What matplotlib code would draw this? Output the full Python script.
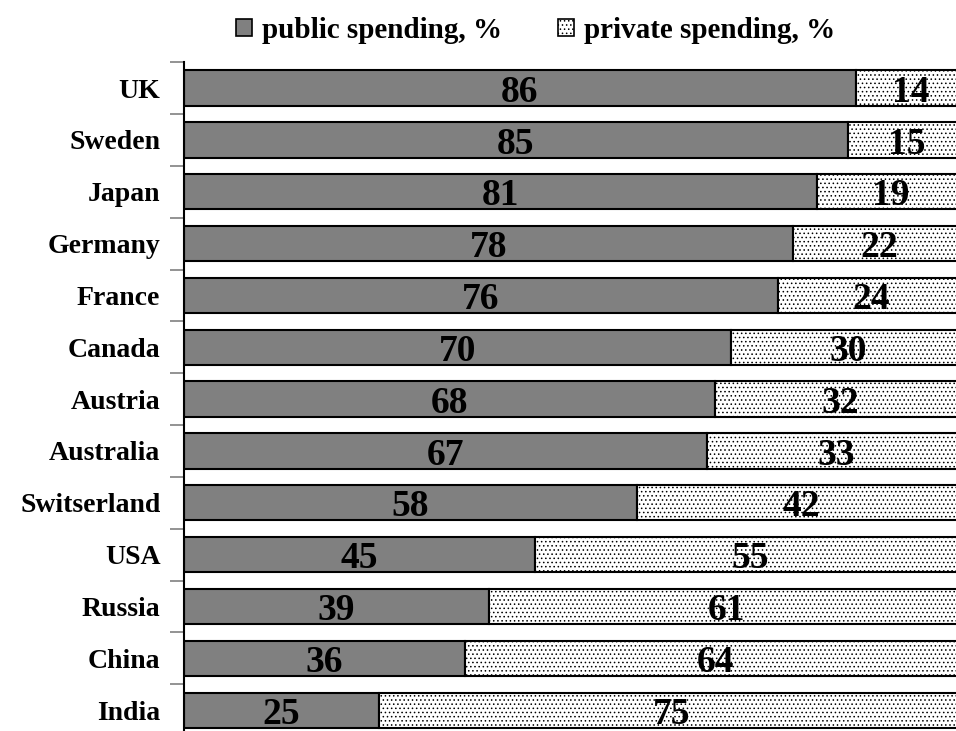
import matplotlib
matplotlib.use("Agg")
import matplotlib.pyplot as plt
import numpy as np
from matplotlib.patches import Patch

countries = ["UK", "Sweden", "Japan", "Germany", "France", "Canada", "Austria",
             "Australia", "Switserland", "USA", "Russia", "China", "India"]
public = [86, 85, 81, 78, 76, 70, 68, 67, 58, 45, 39, 36, 25]
private = [14, 15, 19, 22, 24, 30, 32, 33, 42, 55, 61, 64, 75]

plt.rcParams['font.family'] = ['Liberation Serif', 'DejaVu Serif']
plt.rcParams['hatch.color'] = '#a5a5a5'
plt.rcParams['hatch.linewidth'] = 0.6

fig = plt.figure(figsize=(9.56, 7.31), dpi=100)
ax = fig.add_axes([184/956, -0.007, 1 - 184/956 + 0.02, 0.922])

y = np.arange(len(countries))
h = 0.68
ax.barh(y, public, height=h, color='#808080', edgecolor='black', linewidth=1.5)
ax.barh(y, private, left=public, height=h, color='white', edgecolor='black',
        linewidth=1.5, hatch='....')

for i in range(len(countries)):
    ax.text(public[i] / 2, y[i] + 0.08, str(public[i]), ha='center', va='center',
            fontsize=27, fontweight='bold')
    ax.text(public[i] + private[i] / 2, y[i] + 0.08, str(private[i]), ha='center',
            va='center', fontsize=27, fontweight='bold')

ax.set_xlim(0, 101.3)
ax.set_ylim(len(countries) - 0.5, -0.5)
ax.set_yticks(y)
ax.set_yticklabels(countries, fontsize=20, fontweight='bold')
ax.tick_params(axis='y', which='major', length=0, pad=17)
ax.set_yticks(np.arange(-0.5, len(countries), 1), minor=True)
ax.tick_params(axis='y', which='minor', length=10, width=1.2, color='#808080')
ax.set_xticks([])
for s in ['top', 'right', 'bottom']:
    ax.spines[s].set_visible(False)
ax.spines['left'].set_linewidth(1.5)

handles = [Patch(facecolor='#808080', edgecolor='black', linewidth=1.2, label='public spending, %'),
           Patch(facecolor='white', edgecolor='black', linewidth=1.2, hatch='....', label='private spending, %')]
fig.legend(handles=handles, loc='upper center', bbox_to_anchor=(0.56, 1.013), ncol=2,
           frameon=False, prop={'size': 21, 'weight': 'bold'}, handlelength=0.55,
           handleheight=0.55, handletextpad=0.35, columnspacing=1.9)

fig.savefig("out.png", dpi=100)
